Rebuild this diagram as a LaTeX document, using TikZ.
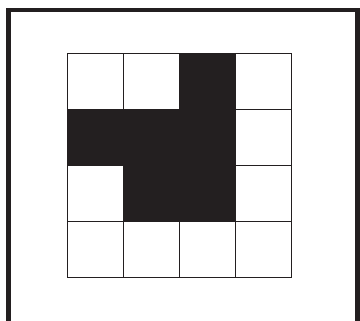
\documentclass[tikz,border=0pt]{standalone}
\definecolor{ink}{HTML}{231F20}
\begin{document}
\begin{tikzpicture}[x=1bp,y=-1bp,
  frame/.style={draw=ink,line width=4.5bp},
  cell/.style={draw=ink,line width=1bp},
  filled/.style={cell,fill=ink}]
\useasboundingbox (0,0) rectangle (360,321);
\clip (0,0) rectangle (360,321);
\draw[frame] (8.5,330) -- (8.5,9.8) -- (357.5,9.8) -- (357.5,330);
\foreach \r/\c in {0/0,0/1,0/3,1/3,2/0,2/3,3/0,3/1,3/2,3/3}{
  \draw[cell] ({67+56*\c},{53+56*\r}) rectangle ++(56,56);
}
\foreach \r/\c in {0/2,1/0,1/1,1/2,2/1,2/2}{
  \draw[filled] ({67+56*\c},{53+56*\r}) rectangle ++(56,56);
}
\end{tikzpicture}
\end{document}
